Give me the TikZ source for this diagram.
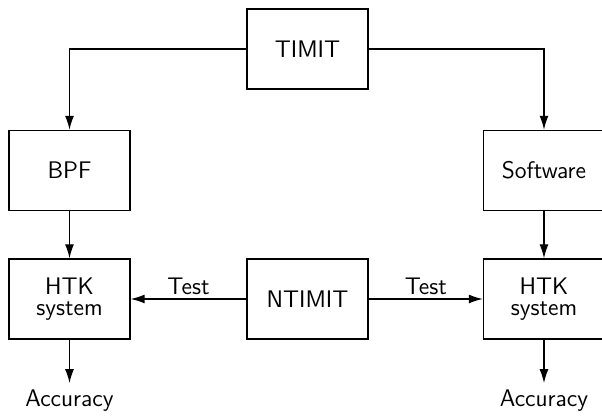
\documentclass[tikz,border=0pt]{standalone}
\usetikzlibrary{arrows.meta}
\begin{document}
\begin{tikzpicture}[x=0.5pt,y=-0.5pt,
    font=\sffamily\fontsize{12}{10.5}\selectfont,
    blk/.style={draw,line width=0.7pt,minimum width=60.5pt,minimum height=40pt,align=center,inner sep=0pt},
    arr/.style={-{Latex[length=7pt,width=4.5pt]},line width=0.7pt}]
  \useasboundingbox (0,0) rectangle (602,416);
  \node[blk] (timit) at (307.5,49) {TIMIT};
  \node[blk] (bpf) at (69.5,170.5) {BPF};
  \node[blk] (soft) at (544,170.5) {Software};
  \node[blk] (htkl) at (69.5,299) {HTK\\system};
  \node[blk] (ntimit) at (307.5,299) {NTIMIT};
  \node[blk] (htkr) at (544,299) {HTK\\system};
  \node (accl) at (69.5,401) {Accuracy};
  \node (accr) at (544,401) {Accuracy};
  % TIMIT feeds both front ends
  \draw[arr] (timit.west) -| (bpf.north);
  \draw[arr] (timit.east) -| (soft.north);
  \draw[arr] (bpf) -- (htkl);
  \draw[arr] (soft) -- (htkr);
  % test set
  \draw[arr] (ntimit) -- node[above,inner sep=2pt] {Test} (htkl);
  \draw[arr] (ntimit) -- node[above,inner sep=2pt] {Test} (htkr);
  \draw[arr] (htkl) -- (accl);
  \draw[arr] (htkr) -- (accr);
\end{tikzpicture}
\end{document}
